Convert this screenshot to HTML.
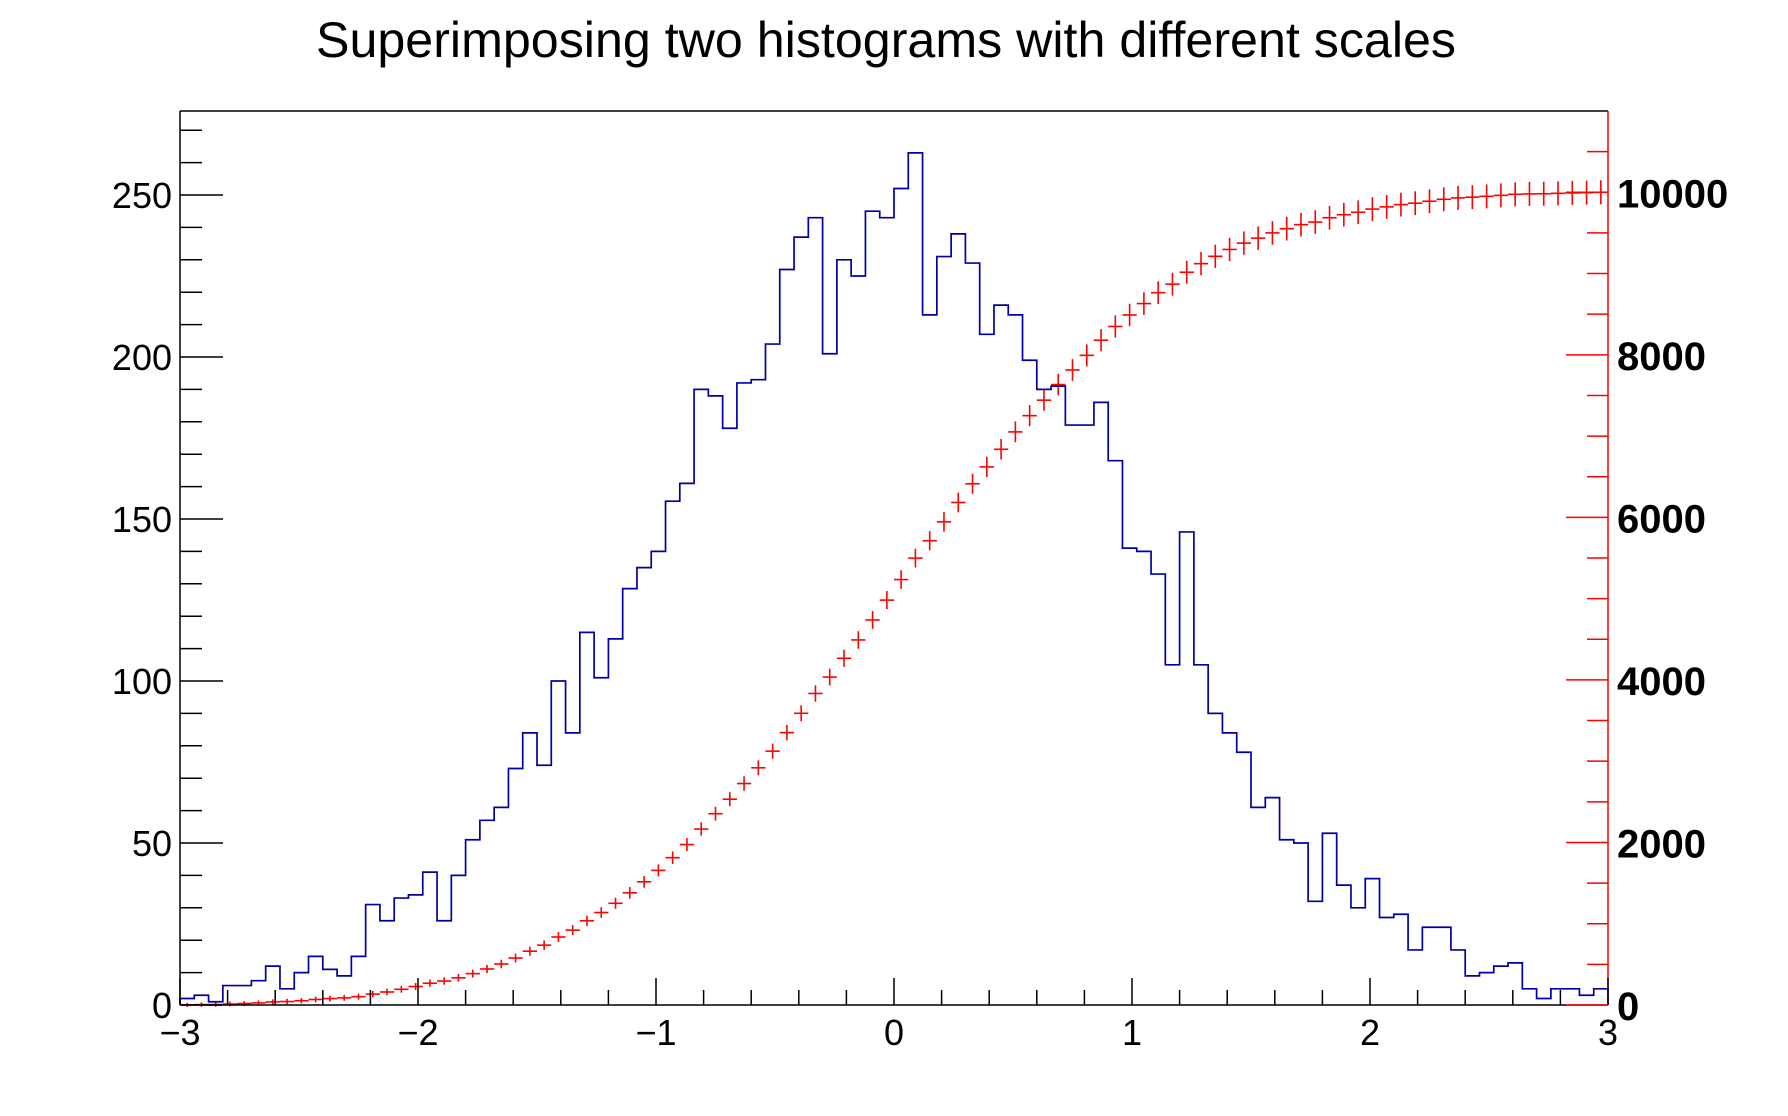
<!DOCTYPE html>
<html><head><meta charset="utf-8"><style>
html,body{margin:0;padding:0;background:#fff;}
svg{display:block;}
text{font-family:"Liberation Sans",sans-serif;}
</style></head><body>
<svg id="s" width="1788" height="1116" xmlns="http://www.w3.org/2000/svg">
<text x="886" y="57" text-anchor="middle" font-size="50" textLength="1140" lengthAdjust="spacingAndGlyphs">Superimposing two histograms with different scales</text>
</svg>
<script>
var v=[2,3,1,6,6,7.5,12,5,10,15,11,9,15,31,26,33,34,41,26,40,51,57,61,73,84,74,100,84,115,101,113,128.5,135,140,155.5,161,190,188,178,192,193,204,227,237,243,201,230,225,245,243,252,263,213,231,238,229,207,216,213,199,190,191,179,179,186,168,141,140,133,105,146,105,90,84,78,61,64,51,50,32,53,37,30,39,27,28,17,24,24,17,9,10,12,13,5,2,5,5,3,5];
var X0=180,X1=1608,Y0=1005,Y1=111,bw=(X1-X0)/100,ls=3.24,rs=894/11000;
var o='';
function L(a,b,c,d,col,w){o+='<line x1="'+a+'" y1="'+b+'" x2="'+c+'" y2="'+d+'" stroke="'+col+'" stroke-width="'+(w||1.5)+'"/>';}
function T(x,y,t,anc,sz,bold){o+='<text x="'+x+'" y="'+y+'" text-anchor="'+anc+'" font-size="'+sz+'"'+(bold?' font-weight="bold"':'')+'>'+t+'</text>';}
var tot=0;for(var i=0;i<100;i++)tot+=v[i];
var c=0;
for(var i=0;i<100;i++){c+=v[i];var cc=c/tot*10000;var y=Y0-cc*rs;var xa=X0+i*bw,xb=xa+bw,xm=xa+bw/2;
L(xa,y,xb,y,'#f00',1.6);var h=2+Math.sqrt(cc)*0.1;L(xm,y-h,xm,y+h,'#f00',1.6);}
var p='M'+X0+' '+Y0;
for(var i=0;i<100;i++){var y=Y0-v[i]*ls;p+=' L'+(X0+i*bw).toFixed(2)+' '+y.toFixed(2)+' L'+(X0+(i+1)*bw).toFixed(2)+' '+y.toFixed(2);}
p+=' L'+X1+' '+Y0;
o+='<path d="'+p+'" fill="none" stroke="#0000a8" stroke-width="1.7"/>';
L(X0,Y1,X1,Y1,'#000');L(X0,Y1,X0,Y0,'#000');L(X0,Y0,X1,Y0,'#000');L(X1,Y1,X1,Y0,'#f00');
for(var k=0;k<=27;k++){var y=Y0-k*10*ls;L(X0,y,X0+(k%5==0?43:22),y,'#000');}
for(var k=0;k<=5;k++){T(172,Y0-k*50*ls+13,k*50,'end',36);}
for(var k=0;k<=30;k++){var x=X0+k*0.2*(X1-X0)/6;L(x,Y0,x,Y0-(k%5==0?27:15),'#000');}
var xl=['\u22123','\u22122','\u22121','0','1','2','3'];
for(var k=0;k<=6;k++){T(X0+k*(X1-X0)/6,1045,xl[k],'middle',36);}
for(var k=0;k<=21;k++){var y=Y0-k*500*rs;L(X1,y,X1-(k%4==0?42:21),y,'#f00');}
for(var k=0;k<=5;k++){T(1617,Y0-k*2000*rs+15,k*2000,'start',40,true);}
document.getElementById('s').insertAdjacentHTML('beforeend',o);
</script>
</body></html>
